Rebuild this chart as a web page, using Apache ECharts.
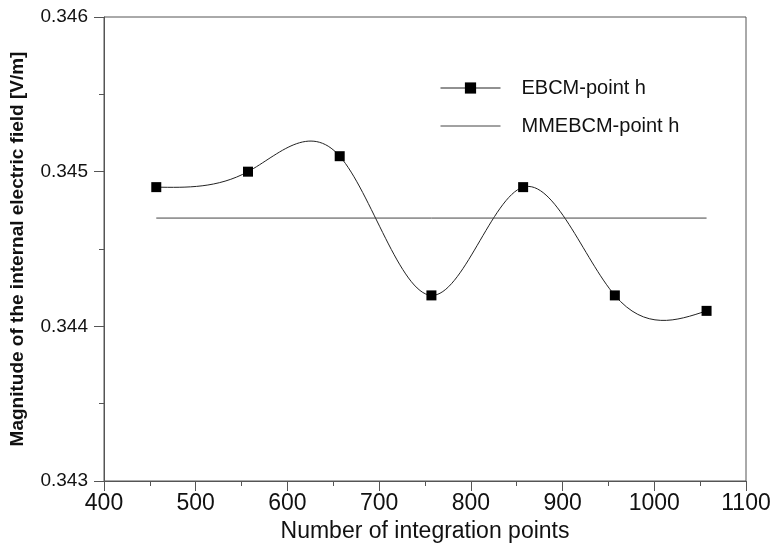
<!DOCTYPE html>
<html><head><meta charset="utf-8">
<script src="https://cdn.jsdelivr.net/npm/echarts@6/dist/echarts.min.js"></script>
<style>html,body{margin:0;padding:0;background:#fff}#c{width:775px;height:554px}</style>
</head><body><div id="c"></div>
<script>
const xValues = [457, 557, 657, 757, 857, 957, 1057];
const ebcmValues = [0.3449, 0.3450, 0.3451, 0.3442, 0.3449, 0.3442, 0.3441];
const mmebcmX = [457, 1057];
const mmebcmValues = [0.3447, 0.3447];
const xTicks = [400, 500, 600, 700, 800, 900, 1000, 1100];
const yTicks = [0.343, 0.344, 0.345, 0.346];

const ff = 'Liberation Sans, Arial, sans-serif';

// Natural cubic spline through pixel points, drawn as bezier segments (rendering only)
function splinePath(pts) {
  const n = pts.length;
  const h = [], d = [];
  for (let i = 0; i < n - 1; i++) {
    h.push(pts[i + 1][0] - pts[i][0]);
    d.push((pts[i + 1][1] - pts[i][1]) / h[i]);
  }
  const a = new Array(n).fill(0), b = new Array(n).fill(0), c = new Array(n).fill(0), r = new Array(n).fill(0);
  b[0] = 2; c[0] = 1; r[0] = 3 * d[0];
  for (let i = 1; i < n - 1; i++) {
    a[i] = h[i]; b[i] = 2 * (h[i - 1] + h[i]); c[i] = h[i - 1];
    r[i] = 3 * (h[i] * d[i - 1] + h[i - 1] * d[i]);
  }
  a[n - 1] = 1; b[n - 1] = 2; r[n - 1] = 3 * d[n - 2];
  for (let i = 1; i < n; i++) {
    const w = a[i] / b[i - 1];
    b[i] -= w * c[i - 1]; r[i] -= w * r[i - 1];
  }
  const m = new Array(n);
  m[n - 1] = r[n - 1] / b[n - 1];
  for (let i = n - 2; i >= 0; i--) m[i] = (r[i] - c[i] * m[i + 1]) / b[i];
  let p = 'M' + pts[0][0] + ',' + pts[0][1];
  for (let i = 0; i < n - 1; i++) {
    const t = h[i] / 3;
    p += 'C' + (pts[i][0] + t) + ',' + (pts[i][1] + m[i] * t) + ',' +
      (pts[i + 1][0] - t) + ',' + (pts[i + 1][1] - m[i + 1] * t) + ',' +
      pts[i + 1][0] + ',' + pts[i + 1][1];
  }
  return p;
}

const chart = echarts.init(document.getElementById('c'), null, {renderer: 'canvas'});
chart.setOption({
  animation: false,
  backgroundColor: '#fff',
  grid: {left: 104, right: 29, top: 17, bottom: 73, show: true, borderColor: '#555', borderWidth: 1},
  legend: {
    orient: 'vertical', left: 435, top: 73,
    itemWidth: 60, itemHeight: 14, itemGap: 18,
    textStyle: {fontFamily: ff, fontSize: 20, color: '#111', lineHeight: 20, padding: [0, 0, 0, 16]},
    data: [
      {name: 'EBCM-point h', lineStyle: {opacity: 1, color: '#222', width: 1}},
      {name: 'MMEBCM-point h', itemStyle: {opacity: 0}, lineStyle: {opacity: 1, color: '#444', width: 1}}
    ]
  },
  xAxis: {
    type: 'value', min: xTicks[0], max: xTicks[xTicks.length - 1], interval: 100,
    name: 'Number of integration points', nameLocation: 'middle', nameGap: 35,
    nameTextStyle: {fontFamily: ff, fontSize: 23, color: '#111'},
    axisLine: {show: true, onZero: false, lineStyle: {color: '#555', width: 1}},
    axisTick: {show: true, inside: false, length: 10, lineStyle: {color: '#555'}},
    minorTick: {show: true, splitNumber: 2, length: 5, lineStyle: {color: '#555'}},
    axisLabel: {fontFamily: ff, fontSize: 23, color: '#111', margin: 11, formatter: v => String(v)},
    splitLine: {show: false}
  },
  yAxis: {
    type: 'value', min: yTicks[0], max: yTicks[yTicks.length - 1], interval: 0.001,
    name: 'Magnitude of the internal electric field [V/m]', nameLocation: 'middle', nameGap: 77,
    nameTextStyle: {fontFamily: ff, fontSize: 19, fontWeight: 'bold', color: '#111'},
    axisLine: {show: true, onZero: false, lineStyle: {color: '#555', width: 1}},
    axisTick: {show: true, inside: false, length: 10, lineStyle: {color: '#555'}},
    minorTick: {show: true, splitNumber: 2, length: 5, lineStyle: {color: '#555'}},
    axisLabel: {fontFamily: ff, fontSize: 19, color: '#111', margin: 16, formatter: v => v.toFixed(3)},
    splitLine: {show: false}
  },
  series: [
    {
      name: 'EBCM curve', type: 'custom',
      data: xValues.map((x, i) => [x, ebcmValues[i]]),
      renderItem: function (params, api) {
        if (params.dataIndex !== 0) return null;
        const pts = xValues.map((x, i) => api.coord([x, ebcmValues[i]]));
        return {type: 'path', shape: {pathData: splinePath(pts)},
          style: {fill: 'none', stroke: '#222', lineWidth: 1}};
      },
      z: 1
    },
    {
      name: 'EBCM-point h', type: 'line',
      data: xValues.map((x, i) => [x, ebcmValues[i]]),
      symbol: 'rect', symbolSize: 10,
      itemStyle: {color: '#000'},
      lineStyle: {opacity: 0},
      z: 3
    },
    {
      name: 'MMEBCM-point h', type: 'line',
      data: mmebcmX.map((x, i) => [x, mmebcmValues[i]]),
      symbol: 'none',
      itemStyle: {color: '#444'},
      lineStyle: {color: '#444', width: 1}
    }
  ]
});
</script></body></html>
